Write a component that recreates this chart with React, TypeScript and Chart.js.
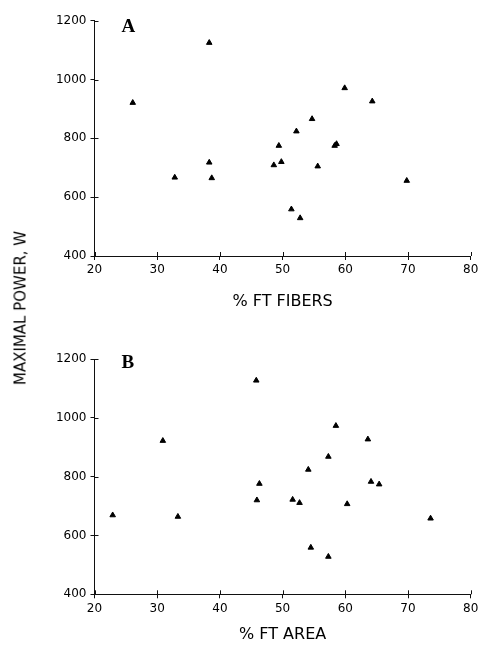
import React, { useEffect, useRef } from "react";
import { Chart, registerables } from "chart.js";

Chart.register(...registerables);

// Panel A: % FT fibers vs maximal power
const fibersPct = [26.1, 38.3, 32.8, 38.3, 38.7, 48.6, 49.4, 49.8, 51.4, 52.8, 52.2, 54.7, 55.6, 58.3, 58.6, 59.9, 64.3, 69.8];
const fibersPower = [921, 1125, 667, 718, 665, 709, 775, 720, 559, 529, 824, 866, 705, 775, 781, 971, 926, 656];

// Panel B: % FT area vs maximal power
const areaPct = [22.9, 30.9, 33.3, 45.8, 46.3, 45.9, 51.6, 52.7, 54.1, 54.5, 57.3, 57.3, 58.5, 60.3, 63.6, 64.1, 65.4, 73.6];
const areaPower = [669, 922, 664, 1127, 776, 720, 722, 711, 824, 559, 528, 868, 973, 707, 927, 783, 774, 658];

const xTicks = [20, 30, 40, 50, 60, 70, 80];
const yTicks = [400, 600, 800, 1000, 1200];

const panelLetters = ["A", "B"];
const xTitles = ["% FT FIBERS", "% FT AREA"];
const yTitle = "MAXIMAL POWER, W";

const SANS = '"DejaVu Sans", sans-serif';

const innerTicks = {
  id: "innerTicks",
  afterDraw(chart: any) {
    const { ctx, chartArea, scales } = chart;
    ctx.save();
    ctx.strokeStyle = "#111";
    ctx.lineWidth = 1;
    ctx.beginPath();
    scales.x.ticks.forEach((t: any) => {
      const px = Math.round(scales.x.getPixelForValue(t.value)) + 0.5;
      ctx.moveTo(px, chartArea.bottom);
      ctx.lineTo(px, chartArea.bottom - 4);
    });
    scales.y.ticks.forEach((t: any) => {
      const py = Math.round(scales.y.getPixelForValue(t.value)) + 0.5;
      ctx.moveTo(chartArea.left, py);
      ctx.lineTo(chartArea.left + 4, py);
    });
    ctx.stroke();
    const o = chart.options.plugins.innerTicks || {};
    if (o.letter) {
      ctx.fillStyle = "#000";
      ctx.font = 'bold 19px "Liberation Serif", serif';
      ctx.textBaseline = "alphabetic";
      ctx.textAlign = "left";
      ctx.fillText(o.letter, chartArea.left + o.dx, chartArea.top + o.dy);
    }
    ctx.restore();
  },
};

function makeConfig(
  xs: number[],
  ys: number[],
  title: string,
  letter: string,
  padTop: number,
  xHeight: number,
  titlePadBottom: number,
  dy: number
): any {
  return {
    type: "scatter",
    data: {
      datasets: [
        {
          data: xs.map((x, i) => ({ x, y: ys[i] })),
          pointStyle: "triangle",
          pointRadius: 3.2,
          backgroundColor: "#000",
          borderColor: "#000",
          borderWidth: 1,
        },
      ],
    },
    plugins: [innerTicks],
    options: {
      animation: false,
      responsive: false,
      devicePixelRatio: 1,
      layout: { padding: { left: 0, right: 9.3, top: padTop, bottom: 0 } },
      plugins: {
        legend: { display: false },
        tooltip: { enabled: false },
        innerTicks: { letter, dx: 27, dy },
      },
      scales: {
        x: {
          type: "linear",
          min: 20,
          max: 80,
          afterBuildTicks: (s: any) => {
            s.ticks = xTicks.map((v) => ({ value: v }));
          },
          afterFit: (s: any) => {
            s.height = xHeight;
            s.paddingLeft = 0;
            s.paddingRight = 0;
          },
          ticks: {
            color: "#000",
            font: { family: SANS, size: 12 },
            padding: 3,
            callback: (v: any) => String(v),
          },
          grid: { drawOnChartArea: false, drawTicks: true, tickLength: 4, color: "#111" },
          border: { color: "#111", width: 1 },
          title: {
            display: true,
            text: title,
            color: "#000",
            font: { family: SANS, size: 16 },
            padding: { top: 0, bottom: titlePadBottom },
          },
        },
        y: {
          type: "linear",
          min: 400,
          max: 1200,
          afterBuildTicks: (s: any) => {
            s.ticks = yTicks.map((v) => ({ value: v }));
          },
          afterFit: (s: any) => {
            s.width = 94.5;
            s.paddingTop = 0;
            s.paddingBottom = 0;
          },
          ticks: {
            color: "#000",
            font: { family: SANS, size: 12 },
            padding: 4,
            callback: (v: any) => String(v),
          },
          grid: { drawOnChartArea: false, drawTicks: true, tickLength: 4, color: "#111" },
          border: { color: "#111", width: 1 },
        },
      },
    },
  };
}

export default function App() {
  const refA = useRef<HTMLCanvasElement>(null);
  const refB = useRef<HTMLCanvasElement>(null);

  useEffect(() => {
    const a = new Chart(
      refA.current as HTMLCanvasElement,
      makeConfig(fibersPct, fibersPower, xTitles[0], panelLetters[0], 20.7, 74, 18.4, 11)
    );
    const b = new Chart(
      refB.current as HTMLCanvasElement,
      makeConfig(areaPct, areaPower, xTitles[1], panelLetters[1], 29, 55.7, 5.4, 9.3)
    );
    return () => {
      a.destroy();
      b.destroy();
    };
  }, []);

  return (
    <div style={{ position: "absolute", left: 0, top: 0, width: 480, height: 650, background: "#fff" }}>
      <canvas
        ref={refA}
        width={480}
        height={330}
        style={{ position: "absolute", left: 0, top: 0, width: 480, height: 330, display: "block" }}
      />
      <canvas
        ref={refB}
        width={480}
        height={320}
        style={{ position: "absolute", left: 0, top: 330, width: 480, height: 320, display: "block" }}
      />
      <div
        style={{
          position: "absolute",
          left: 21,
          top: 308,
          transform: "translate(-50%, -50%) rotate(-90deg)",
          whiteSpace: "nowrap",
          fontFamily: SANS,
          fontSize: 15,
          color: "#000",
          lineHeight: 1,
        }}
      >
        {yTitle}
      </div>
    </div>
  );
}
